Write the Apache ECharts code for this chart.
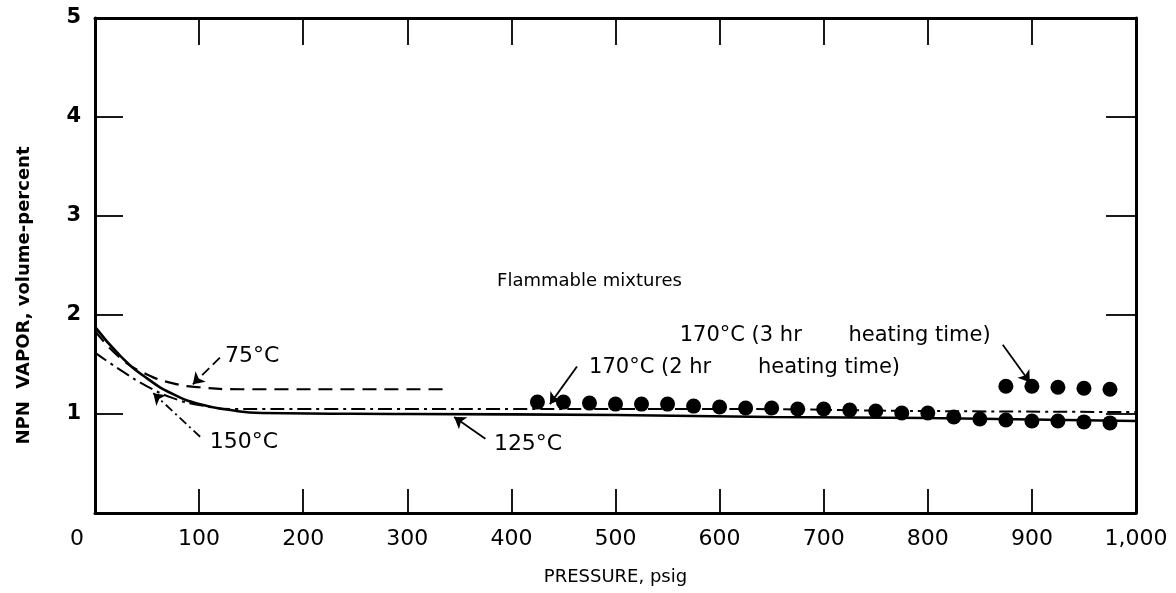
<!DOCTYPE html>
<html>
<head>
<meta charset="utf-8">
<script src="https://cdn.jsdelivr.net/npm/echarts@6/dist/echarts.min.js"></script>
<style>html,body{margin:0;padding:0;background:#fff}#c{width:1176px;height:593px}</style>
</head>
<body>
<div id="c"></div>
<script>
// ---- data ----
var xTicks = [0, 100, 200, 300, 400, 500, 600, 700, 800, 900, 1000];
var yTicks = [1, 2, 3, 4, 5];
var c75 = [[0, 1.84], [25, 1.56], [50, 1.40], [75, 1.31], [100, 1.27], [140, 1.25], [340, 1.25]];
var c125 = [[0, 1.88], [25, 1.58], [50, 1.36], [75, 1.20], [100, 1.10], [130, 1.04], [160, 1.01], [300, 1.0], [500, 0.99], [650, 0.97], [800, 0.96], [1000, 0.93]];
var c150 = [[0, 1.62], [25, 1.44], [50, 1.28], [75, 1.16], [100, 1.09], [135, 1.05], [400, 1.05], [600, 1.05], [800, 1.03], [1000, 1.02]];
var p2hr = [425, 450, 475, 500, 525, 550, 575, 600, 625, 650, 675, 700, 725, 750, 775, 800, 825, 850, 875, 900, 925, 950, 975];
var v2hr = [1.12, 1.12, 1.11, 1.10, 1.10, 1.10, 1.08, 1.07, 1.06, 1.06, 1.05, 1.05, 1.04, 1.03, 1.01, 1.01, 0.97, 0.95, 0.94, 0.93, 0.93, 0.92, 0.91];
var p3hr = [875, 900, 925, 950, 975];
var v3hr = [1.28, 1.28, 1.27, 1.26, 1.25];
var noteText = ['Flammable mixtures', '75°C', '150°C', '125°C', '170°C (2 hr       heating time)', '170°C (3 hr       heating time)'];
var noteX = [475, 151, 143, 416, 624, 711];
var noteY = [2.34, 1.58, 0.71, 0.69, 1.47, 1.79];
var leaderFrom = [[120, 1.57], [101, 0.77], [375, 0.75], [463, 1.48], [872, 1.70]];
var leaderTo = [[94, 1.30], [56, 1.21], [345, 0.97], [437, 1.10], [898, 1.32]];

// ---- styles ----
var FONT = 'DejaVu Sans';
var noteSize = [18, 22, 22, 22, 21, 21];
var leaderType = [[10, 5], [9, 4, 2, 4], 'solid', 'solid', 'solid'];

var chart = echarts.init(document.getElementById('c'));
function zip(a, b) { return a.map(function (v, i) { return [v, b[i]]; }); }
var leaderSeries = leaderFrom.map(function (f, i) {
  return {
    type: 'lines', coordinateSystem: 'cartesian2d', silent: true, z: 5,
    symbol: ['none', 'arrow'], symbolSize: [0, 11],
    lineStyle: { color: '#000', width: 1.8, type: leaderType[i], opacity: 1 },
    data: [{ coords: [f, leaderTo[i]] }]
  };
});
function axisCommon(pos, tickLen) {
  return {
    type: 'value', position: pos,
    axisLine: { show: true, onZero: false, lineStyle: { color: '#000', width: 3 } },
    axisTick: { show: true, inside: true, length: tickLen, lineStyle: { color: '#000', width: 1.8 } },
    splitLine: { show: false }
  };
}
chart.setOption({
  animation: false,
  backgroundColor: '#fff',
  grid: { left: 95, right: 40, top: 18, bottom: 80 },
  xAxis: [
    Object.assign(axisCommon('bottom', 24), {
      min: 0, max: 1000, interval: 100,
      axisLabel: { color: '#000', fontFamily: FONT, fontSize: 22, margin: 15,
        formatter: function (v) { return v === 0 ? '{z|0}' : (v === 1000 ? '1,000' : String(v)); },
        rich: { z: { color: '#000', fontFamily: FONT, fontSize: 22, padding: [0, 36, 0, 0] } } },
      name: 'PRESSURE, psig', nameLocation: 'middle', nameGap: 55,
      nameTextStyle: { color: '#000', fontFamily: FONT, fontSize: 18 }
    }),
    Object.assign(axisCommon('top', 27), {
      min: 0, max: 1000, interval: 100, axisLabel: { show: false }
    })
  ],
  yAxis: [
    Object.assign(axisCommon('left', 28), {
      min: 0, max: 5, interval: 1,
      axisLabel: { color: '#000', fontFamily: FONT, fontSize: 21, fontWeight: 'bold', margin: 14,
        formatter: function (v) { return yTicks.indexOf(v) >= 0 ? String(v) : ''; } },
      name: 'NPN  VAPOR, volume-percent', nameLocation: 'middle', nameGap: 62,
      nameTextStyle: { color: '#000', fontFamily: FONT, fontSize: 18, fontWeight: 'bold', padding: [0, 60, 0, 0] }
    }),
    Object.assign(axisCommon('right', 30), {
      min: 0, max: 5, interval: 1, axisLabel: { show: false }
    })
  ],
  series: [
    { name: '75°C', type: 'line', data: c75, smooth: 0.5, showSymbol: false,
      lineStyle: { color: '#000', width: 2.2, type: [14, 8] } },
    { name: '125°C', type: 'line', data: c125, smooth: 0.5, showSymbol: false,
      lineStyle: { color: '#000', width: 2.6 } },
    { name: '150°C', type: 'line', data: c150, smooth: 0.5, showSymbol: false,
      lineStyle: { color: '#000', width: 2, type: [14, 5, 3, 5] } },
    { name: '170°C 2 hr', type: 'scatter', data: zip(p2hr, v2hr), symbol: 'circle', symbolSize: 15,
      itemStyle: { color: '#000', opacity: 1 }, z: 4 },
    { name: '170°C 3 hr', type: 'scatter', data: zip(p3hr, v3hr), symbol: 'circle', symbolSize: 15,
      itemStyle: { color: '#000', opacity: 1 }, z: 4 },
    { name: 'notes', type: 'scatter', silent: true, symbolSize: 0, z: 6,
      itemStyle: { opacity: 1 },
      data: noteText.map(function (t, i) {
        return { value: [noteX[i], noteY[i]], name: t,
          label: { fontSize: noteSize[i] } };
      }),
      label: { show: true, position: 'inside', color: '#000', fontFamily: FONT, fontSize: 18,
        formatter: function (p) { return p.name; } } }
  ].concat(leaderSeries)
});
</script>
</body>
</html>
